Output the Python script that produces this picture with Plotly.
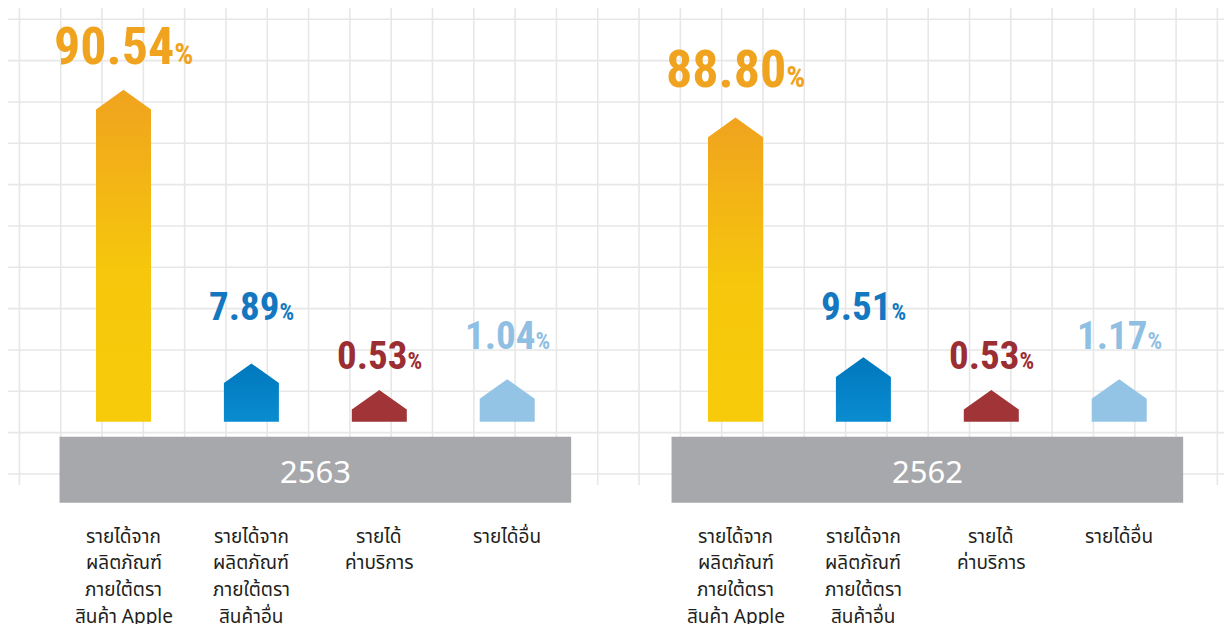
import plotly.graph_objects as go

# ---------------- data ----------------
years = ["2563", "2562"]
categories = [
    ["รายได้จาก", "ผลิตภัณฑ์", "ภายใต้ตรา", "สินค้า Apple"],
    ["รายได้จาก", "ผลิตภัณฑ์", "ภายใต้ตรา", "สินค้าอื่น"],
    ["รายได้", "ค่าบริการ"],
    ["รายได้อื่น"],
]
share_2563 = [90.54, 7.89, 0.53, 1.04]
share_2562 = [88.80, 9.51, 0.53, 1.17]
# drawn arrow heights (in grid cells) as they appear in the infographic
height_2563 = [8.03, 1.41, 0.77, 1.03]
height_2562 = [7.36, 1.56, 0.77, 1.03]

# ---------------- style ----------------
bar_colors = ["#f0a31e", "#0a86c9", "#a03436", "#93c4e6"]
label_colors = ["#f0a31e", "#1478c0", "#9b2e33", "#8fc0e3"]
apple_gradient = [[0, "#f7cb0a"], [0.45, "#f6c70c"], [1, "#f0a31e"]]
blue_gradient = [[0, "#0a8cd1"], [1, "#0078bd"]]
label_gap_px = [[43, 56, 34, 43], [48, 50, 34, 43]]
grid_color = "#e7e7e8"
band_color = "#a7a8ab"
value_font = "Roboto Condensed, DejaVu Sans Condensed, Liberation Sans Narrow, sans-serif"
thai_font = "Noto Sans Thai, Noto Sans Thai UI, Loma, Garuda, Noto Sans, sans-serif"

SLOT_PX = 127.9            # pixels per category slot (x unit)
CELL_PX = 41.33            # pixels per grid cell (y unit)
PANEL_SHIFT = 4.785        # slots between the two panels
HALF_W = 27.5 / SLOT_PX
SHOULDER = 19.7 / CELL_PX

# page has an 8px body margin: figure spans page px 8..1232 / 8..624
X_RANGE = [(8 - 123.5) / SLOT_PX, (1232 - 123.5) / SLOT_PX]
Y_RANGE = [(421.7 - 624) / CELL_PX, (421.7 - 8) / CELL_PX]

fig = go.Figure()

# ---- background grid ----
grid_x0 = (19.4 - 123.5) / SLOT_PX
grid_dx = 41.31 / SLOT_PX
grid_top = Y_RANGE[1]
grid_bottom = (421.7 - 485) / CELL_PX
grid_left = X_RANGE[0]
for k in range(30):
    gx = grid_x0 + k * grid_dx
    fig.add_shape(type="line", x0=gx, x1=gx, y0=grid_bottom, y1=grid_top,
                  line=dict(color=grid_color, width=1.6), layer="below")
for k in range(12):
    gy = (421.7 - 19.3) / CELL_PX - k
    fig.add_shape(type="line", x0=grid_left, x1=X_RANGE[1], y0=gy, y1=gy,
                  line=dict(color=grid_color, width=1.6), layer="below")

panels = [(years[0], share_2563, height_2563), (years[1], share_2562, height_2562)]
line_y0 = (421.7 - 537) / CELL_PX
line_dy = 26.7 / CELL_PX

for p, (year, shares, heights) in enumerate(panels):
    off = p * PANEL_SHIFT
    # year band
    fig.add_shape(type="rect", x0=off - 0.5, x1=off + 3.5, y0=-1.96, y1=-0.363,
                  fillcolor=band_color, line=dict(width=0), layer="above")
    fig.add_annotation(x=off + 1.5, y=-1.2, text=year, showarrow=False,
                       xanchor="center", yanchor="middle",
                       font=dict(family="Noto Sans, Open Sans, sans-serif", size=31, color="white"))
    for i, (s, h) in enumerate(zip(shares, heights)):
        c = off + i
        xs = [c - HALF_W, c - HALF_W, c, c + HALF_W, c + HALF_W, c - HALF_W]
        ys = [0, h - SHOULDER, h, h - SHOULDER, 0, 0]
        kw = dict(fillcolor=bar_colors[i])
        if i == 0:
            kw = dict(fillgradient=dict(type="vertical", colorscale=apple_gradient, start=0, stop=h))
        elif i == 1:
            kw = dict(fillgradient=dict(type="vertical", colorscale=blue_gradient, start=0, stop=h))
        fig.add_trace(go.Scatter(x=xs, y=ys, mode="lines", fill="toself",
                                 line=dict(width=0, color=bar_colors[i]),
                                 hoverinfo="skip", **kw))
        big = i == 0
        fs = 52 if big else 39
        ps = 30 if big else 23
        fig.add_annotation(x=c, y=h, yshift=label_gap_px[p][i], showarrow=False,
                           xanchor="center", yanchor="middle",
                           text=f"<b>{s:.2f}<span style='font-size:{ps}px'>%</span></b>",
                           font=dict(family=value_font, size=fs, color=label_colors[i]))
        for j, line in enumerate(categories[i]):
            fig.add_annotation(x=c, y=line_y0 - j * line_dy, showarrow=False,
                               xanchor="center", yanchor="middle", text=line,
                               font=dict(family=thai_font, size=19, color="#231f20"))

fig.update_layout(
    width=1224, height=616,
    margin=dict(l=0, r=0, t=0, b=0),
    paper_bgcolor="white", plot_bgcolor="white",
    showlegend=False,
    xaxis=dict(range=X_RANGE, visible=False, fixedrange=True),
    yaxis=dict(range=Y_RANGE, visible=False, fixedrange=True),
)

fig.write_html("out.html")
